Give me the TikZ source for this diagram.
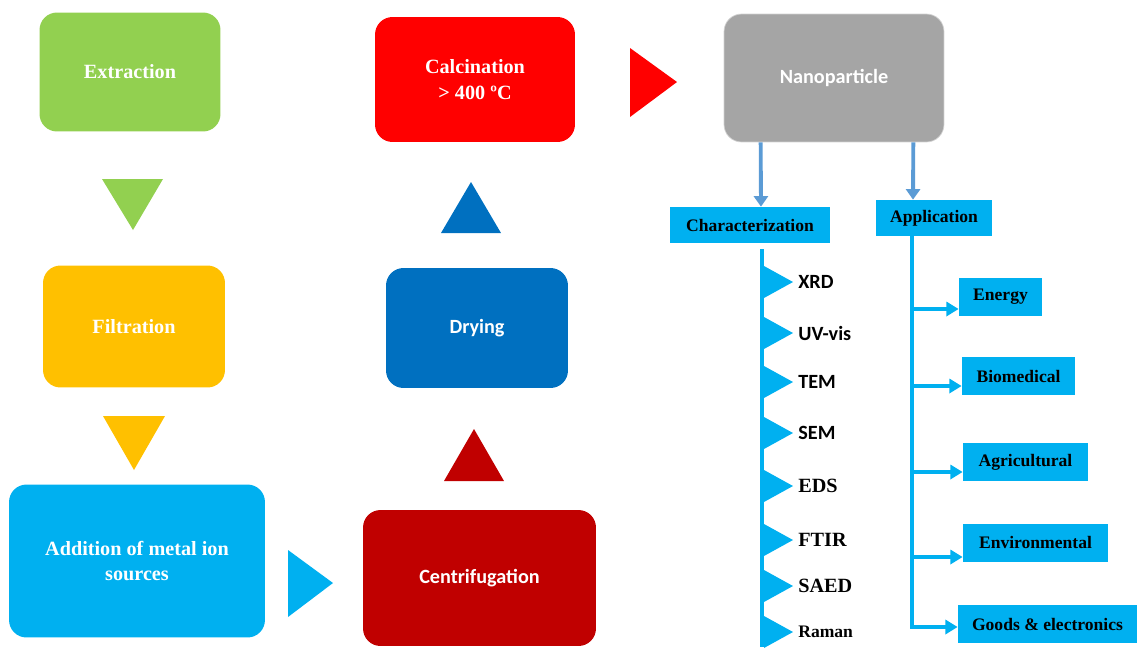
\documentclass[tikz,border=0pt]{standalone}
\usepackage{fontspec}
\setmainfont{Liberation Serif}
\newfontfamily\calfont{Carlito}
\newfontfamily\serfont{Liberation Serif}
\usetikzlibrary{positioning,arrows.meta,calc}

\definecolor{extrgreen}{HTML}{92D050}
\definecolor{filtyellow}{HTML}{FFC000}
\definecolor{skyblue}{HTML}{00B0F0}
\definecolor{darkred}{HTML}{C00000}
\definecolor{dryblue}{HTML}{0070C0}
\definecolor{calcred}{HTML}{FF0000}
\definecolor{nanogray}{HTML}{A5A5A5}
\definecolor{arrowblue}{HTML}{5B9BD5}

\tikzset{
    process/.style={rounded corners=0.35cm, text=white, align=center,
        font=\serfont\fontsize{11.5}{14.5}\selectfont\bfseries},
    calprocess/.style={process, font=\calfont\fontsize{11.5}{14.5}\selectfont\bfseries},
    tagbox/.style={fill=skyblue, text=black, minimum height=0.76cm,
        font=\serfont\fontsize{10}{12}\selectfont\bfseries},
    caltag/.style={font=\calfont\fontsize{11.5}{13}\selectfont\bfseries},
    sertag/.style={font=\serfont\fontsize{11.5}{13}\selectfont\bfseries},
    smalltag/.style={font=\serfont\fontsize{10}{12}\selectfont\bfseries},
    trunk/.style={draw=skyblue, line width=2.8pt},
    branch/.style={draw=skyblue, line width=2.2pt, -{Triangle[width=8pt,length=7pt]}},
    nanoarrow/.style={draw=arrowblue, line width=2.2pt, -{Triangle[width=8pt,length=6pt]}}
}

\begin{document}
\begin{tikzpicture}[x=0.02cm, y=-0.02cm]
        \useasboundingbox (0,0) rectangle (1137,647);

        % Synthesis steps
        \node[process, fill=extrgreen, minimum width=3.62cm, minimum height=2.38cm] (extr) at (130,72) {Extraction};
        \node[process, fill=filtyellow, minimum width=3.64cm, minimum height=2.44cm] (filt) at (134,326.5) {Filtration};
        \node[process, fill=skyblue, minimum width=5.12cm, minimum height=3.06cm] (addi) at (137,561) {Addition of metal ion\\sources};
        \node[calprocess, fill=darkred, minimum width=4.66cm, minimum height=2.72cm] (centr) at (479.5,578) {Centrifugation};
        \node[calprocess, fill=dryblue, minimum width=3.64cm, minimum height=2.4cm] (dry) at (477,328) {Drying};
        \node[process, fill=calcred, minimum width=4cm, minimum height=2.5cm] (calc) at (475,79.5) {Calcination\\> 400 ºC};
        \node[calprocess, fill=nanogray, draw=gray!35, minimum width=4.4cm, minimum height=2.56cm] (nano) at (834,78) {Nanoparticle};

        % Flow triangles
        \fill[extrgreen] (102,179) -- (163,179) -- (133,230) -- cycle;
        \fill[filtyellow] (103,416) -- (165,416) -- (134,470) -- cycle;
        \fill[skyblue] (288,550) -- (333,583) -- (288,617) -- cycle;
        \fill[darkred] (444,481) -- (504,481) -- (474,429) -- cycle;
        \fill[dryblue] (441,233) -- (501,233) -- (471,182) -- cycle;
        \fill[calcred] (630,48) -- (677,82) -- (630,117) -- cycle;

        % Characterization and application
        \node[tagbox, minimum width=3.2cm, minimum height=0.72cm] (char) at (750,225) {Characterization};
        \node[tagbox, minimum width=2.32cm, minimum height=0.72cm] (appl) at (934,218) {Application};
        \draw[nanoarrow] ([xshift=0.74cm]nano.south west) -- ([xshift=0.22cm]char.north);
        \draw[nanoarrow] ([xshift=-0.62cm]nano.south east) -- ([xshift=-0.42cm]appl.north);

        \coordinate (ctop) at (762,249);
        \coordinate (cbot) at (762,647);
        \draw[trunk] (ctop) -- (cbot);
        \foreach \ty/\tname/\ttext/\tstyle in {282/xrd/XRD/caltag, 333/uvvis/UV-vis/caltag,
            382/tem/TEM/caltag, 433/sem/SEM/caltag, 486/eds/EDS/sertag,
            540/ftir/FTIR/sertag, 586/saed/SAED/sertag, 632/raman/Raman/smalltag}
        {
            \node[anchor=west, inner sep=0pt, \tstyle] (\tname) at (798,\ty) {\ttext};
            \fill[skyblue] (764,\ty-16) -- (793,\ty) -- (764,\ty+16) -- cycle;
        }

        \coordinate (atop) at (912,236);
        \coordinate (abot) at (912,629);
        \draw[trunk] (atop) -- (abot);
        \node[tagbox, minimum width=1.66cm] (energy) at (1000.5,296.5) {Energy};
        \node[tagbox, minimum width=2.26cm] (biomed) at (1018.5,376) {Biomedical};
        \node[tagbox, minimum width=2.5cm] (agri) at (1025.5,462) {Agricultural};
        \node[tagbox, minimum width=2.9cm] (envir) at (1035.5,542.5) {Environmental};
        \node[tagbox, minimum width=3.58cm] (goods) at (1047.5,624) {Goods \& electronics};
        \foreach \tname/\off in {energy/12.5, biomed/10, agri/10, envir/14.5, goods/3}
        {
            \path (\tname.west) ++(0,\off) coordinate (\tname-in);
            \draw[branch] (\tname-in -| atop) -- (\tname-in);
        }
    \end{tikzpicture}
\end{document}
